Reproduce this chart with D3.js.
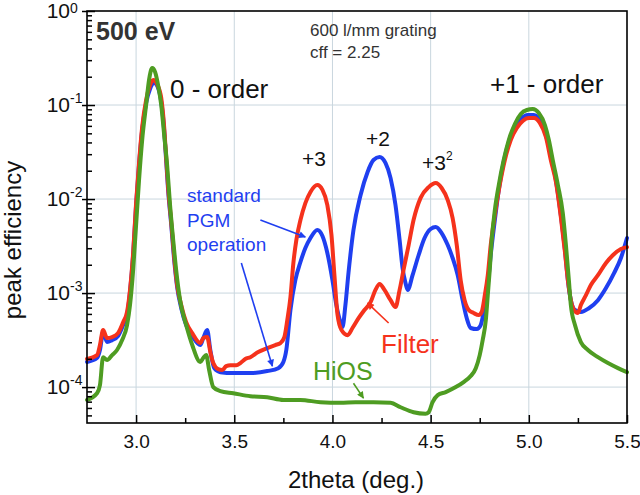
<!DOCTYPE html>
<html><head><meta charset="utf-8">
<script src="https://cdn.jsdelivr.net/npm/d3@7"></script>
<style>body{margin:0;background:#fff}svg{display:block}text{font-family:"Liberation Sans",Arial,Helvetica,sans-serif}</style>
</head><body><svg id="c" width="640" height="495"></svg>
<script>
// ---- data ----
const thetaPGM = [2.750,2.801,2.816,2.832,2.852,2.878,2.908,2.934,2.954,2.969,
2.985,3.000,3.015,3.031,3.051,3.071,3.092,3.112,3.128,3.143,
3.153,3.163,3.179,3.194,3.209,3.230,3.255,3.286,3.327,3.342,
3.362,3.378,3.398,3.429,3.495,3.582,3.668,3.724,3.750,3.765,
3.786,3.811,3.837,3.862,3.888,3.923,3.949,3.974,4.000,4.020,
4.041,4.051,4.066,4.082,4.107,4.143,4.179,4.209,4.240,4.270,
4.296,4.321,4.342,4.357,4.372,4.383,4.408,4.439,4.469,4.500,
4.526,4.556,4.587,4.612,4.638,4.663,4.684,4.704,4.735,4.755,
4.776,4.791,4.806,4.827,4.847,4.872,4.898,4.929,4.959,4.995,
5.026,5.056,5.087,5.112,5.138,5.163,5.184,5.199,5.214,5.235,
5.265,5.306,5.352,5.393,5.434,5.469,5.500];
const effPGM = [1.85e-4,2.04e-4,2.48e-4,3.85e-4,3.01e-4,3.16e-4,3.49e-4,4.57e-4,5.8e-4,1.03e-3,
2.54e-3,8.63e-3,0.023,0.0542,0.105,0.148,0.171,0.152,0.108,0.0542,
0.026,0.0125,5.29e-3,2.24e-3,1.16e-3,6.9e-4,4.57e-4,3.49e-4,2.8e-4,3.32e-4,
4.04e-4,2.48e-4,1.59e-4,1.44e-4,1.41e-4,1.41e-4,1.48e-4,1.59e-4,1.85e-4,2.48e-4,
6.6e-4,1.37e-3,2.14e-3,3.01e-3,3.85e-3,4.68e-3,4.04e-3,2.67e-3,1.37e-3,7.45e-4,
4.9e-4,4.35e-4,7.45e-4,1.67e-3,4.68e-3,0.011,0.0194,0.026,0.028,0.0242,
0.0167,8.63e-3,3.66e-3,1.85e-3,1.28e-3,1.08e-3,1.55e-3,2.54e-3,3.85e-3,4.8e-3,
5.04e-3,4.35e-3,3.24e-3,2.36e-3,1.55e-3,8.4e-4,5.4e-4,4.25e-4,4.14e-4,4.57e-4,
7.45e-4,1.22e-3,2.54e-3,5.98e-3,0.0125,0.0248,0.0404,0.0583,0.071,0.0783,
0.0783,0.0692,0.048,0.0294,0.0159,6.76e-3,2.87e-3,1.37e-3,8.4e-4,6.6e-4,
6.3e-4,6.9e-4,8.4e-4,1.13e-3,1.63e-3,2.36e-3,3.85e-3];

const thetaFilter = [2.750,2.801,2.816,2.832,2.852,2.878,2.908,2.934,2.954,2.969,
2.985,3.000,3.015,3.031,3.051,3.071,3.087,3.107,3.128,3.143,
3.153,3.163,3.179,3.194,3.209,3.230,3.255,3.286,3.327,3.342,
3.362,3.378,3.393,3.418,3.439,3.459,3.480,3.510,3.531,3.556,
3.582,3.622,3.668,3.709,3.735,3.755,3.770,3.786,3.801,3.816,
3.837,3.862,3.888,3.923,3.949,3.974,3.995,4.010,4.026,4.046,
4.077,4.102,4.133,4.163,4.194,4.219,4.240,4.265,4.296,4.321,
4.342,4.362,4.388,4.413,4.449,4.490,4.526,4.556,4.587,4.612,
4.633,4.653,4.673,4.694,4.719,4.745,4.760,4.776,4.791,4.806,
4.827,4.852,4.878,4.908,4.939,4.969,5.000,5.026,5.056,5.087,
5.112,5.138,5.163,5.184,5.199,5.214,5.230,5.250,5.265,5.291,
5.316,5.352,5.393,5.429,5.469,5.500];
const effFilter = [1.99e-4,2.19e-4,2.8e-4,4.04e-4,3.32e-4,3.4e-4,3.75e-4,4.9e-4,6.3e-4,1.08e-3,
2.67e-3,9.06e-3,0.0242,0.0583,0.113,0.163,0.185,0.167,0.119,0.0583,
0.028,0.0134,5.69e-3,2.42e-3,1.22e-3,7.45e-4,4.9e-4,3.75e-4,2.94e-4,3.32e-4,
3.4e-4,2.36e-4,1.8e-4,1.55e-4,1.52e-4,1.67e-4,1.71e-4,1.71e-4,1.8e-4,1.99e-4,
2.08e-4,2.36e-4,2.6e-4,2.8e-4,2.94e-4,3.4e-4,5.16e-4,9.06e-4,2.09e-3,3.66e-3,
5.98e-3,9.06e-3,0.0119,0.0141,0.0125,8.63e-3,4.14e-3,1.55e-3,5.83e-4,4.04e-4,
3.57e-4,4.25e-4,5.4e-4,6.6e-4,8.0e-4,1.08e-3,1.25e-3,1.08e-3,8.4e-4,7.1e-4,
1.08e-3,1.76e-3,3.24e-3,5.98e-3,0.0103,0.0134,0.0148,0.0131,9.76e-3,6.28e-3,
3.24e-3,1.37e-3,8.4e-4,6.6e-4,6.13e-4,5.83e-4,6.3e-4,9.5e-4,1.55e-3,3.24e-3,
6.76e-3,0.0141,0.026,0.0425,0.0569,0.0676,0.0727,0.0727,0.0644,0.0457,
0.026,0.0152,6.44e-3,2.73e-3,1.37e-3,8.4e-4,6.6e-4,6.13e-4,7.45e-4,9.5e-4,
1.22e-3,1.55e-3,2.09e-3,2.54e-3,2.94e-3,3.08e-3];

const thetaHiOS = [2.750,2.801,2.816,2.832,2.852,2.878,2.903,2.929,2.954,2.969,
2.985,3.000,3.015,3.031,3.051,3.066,3.082,3.097,3.112,3.128,
3.143,3.158,3.173,3.189,3.204,3.224,3.255,3.286,3.327,3.342,
3.357,3.372,3.393,3.429,3.495,3.582,3.668,3.750,3.837,3.939,
4.041,4.117,4.209,4.296,4.347,4.413,4.474,4.490,4.510,4.536,
4.577,4.628,4.668,4.704,4.730,4.750,4.765,4.781,4.791,4.801,
4.811,4.827,4.847,4.872,4.898,4.929,4.959,4.990,5.020,5.051,
5.082,5.102,5.122,5.148,5.173,5.189,5.204,5.214,5.235,5.265,
5.301,5.352,5.403,5.454,5.500];
const effHiOS = [7.3e-5,8.6e-5,1.05e-4,2.08e-4,1.94e-4,2.19e-4,2.48e-4,3.16e-4,4.57e-4,7.45e-4,
1.76e-3,5.29e-3,0.0159,0.0425,0.1,0.185,0.248,0.224,0.163,0.1,
0.048,0.023,8.63e-3,3.66e-3,1.76e-3,8.4e-4,4.57e-4,2.8e-4,1.85e-4,2.04e-4,
2.19e-4,1.52e-4,1.0e-4,9.06e-5,8.6e-5,8.0e-5,7.8e-5,7.3e-5,7.3e-5,6.9e-5,
6.8e-5,6.9e-5,6.9e-5,6.8e-5,6.1e-5,5.4e-5,5.2e-5,5.4e-5,6.9e-5,8.2e-5,
8.85e-5,1.0e-4,1.13e-4,1.31e-4,1.59e-4,2.19e-4,3.16e-4,5.16e-4,9.5e-4,1.76e-3,
3.66e-3,7.64e-3,0.0141,0.026,0.0425,0.0628,0.0802,0.0885,0.0906,0.0822,
0.0612,0.0425,0.026,0.0141,7.1e-3,3.24e-3,1.37e-3,7.45e-4,4.57e-4,3.01e-4,
2.48e-4,2.08e-4,1.8e-4,1.59e-4,1.44e-4];

const xTickValues = [3.0,3.5,4.0,4.5,5.0,5.5];
const xTickLabels = ["3.0","3.5","4.0","4.5","5.0","5.5"];
const yTickExponents = [0,-1,-2,-3,-4];

// ---- layout ----
const svg = d3.select("#c");
const L=87, R=627, T=11, B=423;
const x = d3.scaleLinear().domain([2.75,5.5]).range([L,R]);
const y = d3.scaleLog().domain([4.15e-5,1]).range([B,T]);
const C = {blue:"#1f3ff0", red:"#f5321c", green:"#4e9c22", grid:"#c9d6de"};

// grid
const gx = xTickValues.filter(v=>v<5.5);
svg.append("g").selectAll("line").data(gx).join("line")
  .attr("x1",d=>x(d)).attr("x2",d=>x(d)).attr("y1",T).attr("y2",B)
  .attr("stroke",C.grid).attr("stroke-width",1);
const gy = yTickExponents.filter(e=>e<0).map(e=>Math.pow(10,e));
svg.append("g").selectAll("line").data(gy).join("line")
  .attr("x1",L).attr("x2",R).attr("y1",d=>y(d)).attr("y2",d=>y(d))
  .attr("stroke",C.grid).attr("stroke-width",1);

// curves
const mk = (xs,ys)=>xs.map((t,i)=>[t,ys[i]]);
const line = d3.line().x(d=>x(d[0])).y(d=>y(d[1])).curve(d3.curveMonotoneX);
const plot = svg.append("g");
[[thetaPGM,effPGM,C.blue],[thetaFilter,effFilter,C.red],[thetaHiOS,effHiOS,C.green]].forEach(([xs,ys,col])=>{
  plot.append("path").datum(mk(xs,ys)).attr("d",line).attr("fill","none")
    .attr("stroke",col).attr("stroke-width",4).attr("stroke-linejoin","round").attr("stroke-linecap","round");
});

// axes (ticks inward)
const xMajor = d3.axisBottom(x).tickValues(xTickValues).tickSize(-8).tickPadding(12)
  .tickFormat((d,i)=>xTickLabels[i]);
const gxa = svg.append("g").attr("transform",`translate(0,${B})`).call(xMajor);
gxa.select(".domain").remove();
gxa.selectAll("line").attr("stroke","#000").attr("stroke-width",1.5);
gxa.selectAll("text").attr("font-size",19).attr("fill","#111").style("font-family",'"Liberation Sans",Arial,sans-serif');
const xMinor = d3.axisBottom(x).tickValues([3.25,3.75,4.25,4.75,5.25]).tickSize(-5).tickFormat("");
const gxm = svg.append("g").attr("transform",`translate(0,${B})`).call(xMinor);
gxm.select(".domain").remove(); gxm.selectAll("line").attr("stroke","#000").attr("stroke-width",1.5);

const majorVals = yTickExponents.map(e=>Math.pow(10,e));
const gyaIn = svg.append("g").attr("transform",`translate(${L},0)`).call(d3.axisLeft(y).tickValues(majorVals).tickSize(-8).tickFormat(""));
const gyaOut = svg.append("g").attr("transform",`translate(${L},0)`).call(d3.axisLeft(y).tickValues(majorVals).tickSize(5).tickFormat(""));
const minorVals = [];
for (let e=-5;e<0;e++) for (let k=2;k<=9;k++){ const v=k*Math.pow(10,e); if(v>=4.15e-5&&v<1) minorVals.push(v); }
const gym = svg.append("g").attr("transform",`translate(${L},0)`).call(d3.axisLeft(y).tickValues(minorVals).tickSize(-5).tickFormat(""));
[gyaIn,gyaOut,gym].forEach(g=>{g.select(".domain").remove(); g.selectAll("line").attr("stroke","#000").attr("stroke-width",1.5);});

// y tick labels 10^n
const yl = svg.append("g");
yTickExponents.forEach(e=>{
  const yy = y(Math.pow(10,e));
  yl.append("text").attr("x",70).attr("y",yy+7).attr("text-anchor","end").attr("font-size",21).attr("fill","#111").text("10");
  yl.append("text").attr("x",70).attr("y",Math.max(yy-2,13)).attr("text-anchor","start").attr("font-size",14).attr("fill","#111").text(e===0?"0":"-"+(-e));
});

// frame
svg.append("rect").attr("x",L).attr("y",T).attr("width",R-L).attr("height",B-T)
  .attr("fill","none").attr("stroke","#000").attr("stroke-width",1.6);

// axis titles
svg.append("text").attr("x",356).attr("y",488).attr("text-anchor","middle").attr("font-size",24).attr("fill","#111").text("2theta (deg.)");
svg.append("text").attr("transform","translate(21,240) rotate(-90)").attr("text-anchor","middle").attr("font-size",24).attr("fill","#111").text("peak efficiency");

// annotations
const ann = svg.append("g");
ann.append("text").attr("x",96).attr("y",40).attr("font-size",25).attr("font-weight","bold").attr("fill","#333").text("500 eV");
ann.append("text").attr("x",310).attr("y",36).attr("font-size",17).attr("fill","#333").text("600 l/mm grating");
ann.append("text").attr("x",310).attr("y",58).attr("font-size",17).attr("fill","#333").text("cff = 2.25");
ann.append("text").attr("x",170).attr("y",98).attr("font-size",26).attr("fill","#111").text("0 - order");
ann.append("text").attr("x",490).attr("y",93).attr("font-size",26).attr("fill","#111").text("+1 - order");
ann.append("text").attr("x",302).attr("y",166).attr("font-size",21).attr("fill","#111").text("+3");
ann.append("text").attr("x",366).attr("y",146).attr("font-size",21).attr("fill","#111").text("+2");
const t32 = ann.append("text").attr("x",422).attr("y",170).attr("font-size",21).attr("fill","#111");
t32.append("tspan").text("+3");
t32.append("tspan").attr("dy",-10).attr("font-size",12).text("2");
const std = ann.append("text").attr("font-size",19).attr("fill",C.blue);
[["standard",202],["PGM",227],["operation",251]].forEach(([s,yy])=>std.append("tspan").attr("x",187).attr("y",yy).text(s));
ann.append("text").attr("x",381).attr("y",353).attr("font-size",26).attr("fill",C.red).text("Filter");
ann.append("text").attr("x",313).attr("y",380).attr("font-size",25).attr("fill",C.green).text("HiOS");

// arrows (data coordinates)
const defs = svg.append("defs");
[["b",C.blue],["r",C.red],["g",C.green]].forEach(([id,col])=>{
  defs.append("marker").attr("id","ah"+id).attr("viewBox","0 0 10 10").attr("refX",9).attr("refY",5)
    .attr("markerWidth",9).attr("markerHeight",7).attr("markerUnits","userSpaceOnUse").attr("orient","auto")
    .append("path").attr("d","M0,0 L10,5 L0,10 z").attr("fill",col);
});
const arrows = [
  [3.633,5.98e-3,3.862,3.94e-3,"b",C.blue],
  [3.536,2.09e-3,3.694,1.67e-4,"b",C.blue],
  [4.286,4.8e-4,4.179,7.83e-4,"r",C.red],
  [4.107,1.1e-4,4.158,7.64e-5,"g",C.green]
];
arrows.forEach(([x1,y1,x2,y2,id,col])=>{
  ann.append("line").attr("x1",x(x1)).attr("y1",y(y1)).attr("x2",x(x2)).attr("y2",y(y2))
    .attr("stroke",col).attr("stroke-width",1.6).attr("marker-end",`url(#ah${id})`);
});
</script></body></html>
